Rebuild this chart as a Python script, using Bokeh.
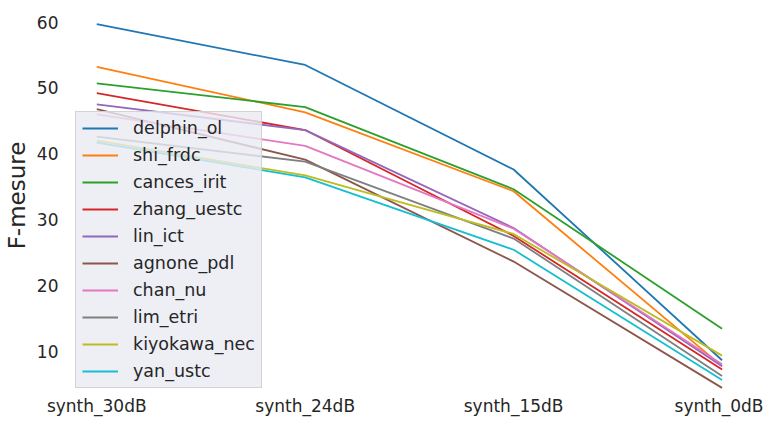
from bokeh.plotting import figure
from bokeh.models import Range1d, FixedTicker, Legend, LegendItem
from bokeh.embed import file_html
from bokeh.resources import INLINE

categories = ["synth_30dB", "synth_24dB", "synth_15dB", "synth_0dB"]

delphin_ol = [59.7, 53.5, 37.6, 8.6]
shi_frdc = [53.2, 46.3, 34.3, 7.7]
cances_irit = [50.7, 47.1, 34.6, 13.4]
zhang_uestc = [49.2, 43.6, 27.5, 7.2]
lin_ict = [47.5, 43.6, 28.7, 7.7]
agnone_pdl = [46.8, 39.1, 23.6, 4.4]
chan_nu = [46.0, 41.2, 28.6, 8.0]
lim_etri = [42.6, 38.8, 27.1, 6.2]
kiyokawa_nec = [42.0, 36.7, 27.8, 9.3]
yan_ustc = [41.7, 36.4, 25.4, 5.6]

series_names = ["delphin_ol", "shi_frdc", "cances_irit", "zhang_uestc", "lin_ict",
                "agnone_pdl", "chan_nu", "lim_etri", "kiyokawa_nec", "yan_ustc"]
series_values = [delphin_ol, shi_frdc, cances_irit, zhang_uestc, lin_ict,
                 agnone_pdl, chan_nu, lim_etri, kiyokawa_nec, yan_ustc]
colors = ["#1f77b4", "#ff7f0e", "#2ca02c", "#d62728", "#9467bd",
          "#8c564b", "#e377c2", "#7f7f7f", "#bcbd22", "#17becf"]
y_ticks = [10, 20, 30, 40, 50, 60]

TXT = "#262626"
FONT = "DejaVu Sans"

p = figure(width=763, height=418, output_backend="svg", toolbar_location=None,
           x_range=Range1d(-0.15, len(categories) - 1 + 0.17),
           y_range=Range1d(4.0, 63.3),
           min_border_left=60, min_border_right=6, min_border_top=0, min_border_bottom=20)
p.background_fill_color = "white"
p.border_fill_color = "white"
p.outline_line_color = None
p.grid.visible = False

xs = list(range(len(categories)))
items = []
for name, vals, c in zip(series_names, series_values, colors):
    r = p.line(xs, vals, line_color=c, line_width=1.8)
    items.append(LegendItem(label=name, renderers=[r]))

p.xaxis.ticker = FixedTicker(ticks=xs)
p.xaxis.major_label_overrides = {i: c for i, c in enumerate(categories)}
p.yaxis.ticker = FixedTicker(ticks=y_ticks)
for ax in (p.xaxis, p.yaxis):
    ax.axis_line_color = None
    ax.major_tick_line_color = None
    ax.minor_tick_line_color = None
    ax.major_tick_out = 0
    ax.major_tick_in = 0
    ax.major_label_text_font = FONT
    ax.major_label_text_font_size = "17px"
    ax.major_label_text_color = TXT
p.xaxis.major_label_standoff = 5
p.yaxis.major_label_standoff = 7
p.yaxis.axis_label = "F-mesure"
p.yaxis.axis_label_text_font = FONT
p.yaxis.axis_label_text_font_size = "23px"
p.yaxis.axis_label_text_font_style = "normal"
p.yaxis.axis_label_text_color = TXT
p.yaxis.axis_label_standoff = 4

legend = Legend(items=items, location=(10, 2))
legend.background_fill_color = "#EAEAF2"
legend.background_fill_alpha = 0.8
legend.border_line_color = "#CCCCCC"
legend.border_line_alpha = 0.8
legend.label_text_font = FONT
legend.label_text_font_size = "17.5px"
legend.label_text_color = TXT
legend.glyph_width = 36
legend.glyph_height = 20
legend.label_height = 20
legend.spacing = 7
legend.padding = 6
legend.margin = 0
legend.label_standoff = 15
p.add_layout(legend, "center")

open("out.html", "w").write(file_html(p, INLINE))
